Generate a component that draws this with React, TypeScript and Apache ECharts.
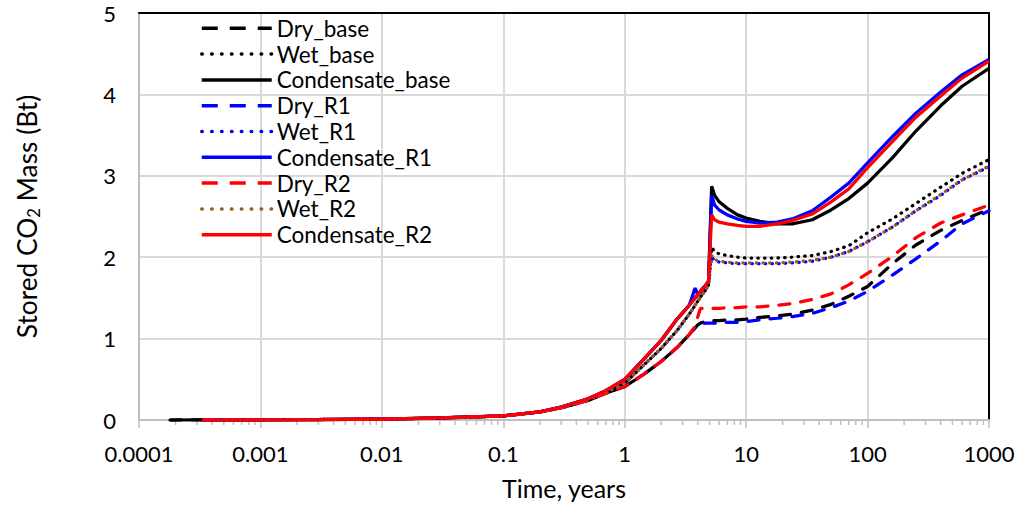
import React, { useEffect, useRef } from 'react';
import * as echarts from 'echarts';

// Time, years
const times = [
  0.00018, 0.00034, 0.0006, 0.001, 0.003, 0.01, 0.03, 0.1, 0.2, 0.3, 0.5, 0.7,
  1, 1.4, 2, 2.7, 3.4, 3.8, 4.0, 4.2, 4.6, 4.9,
  5.2, 5.5, 6, 7, 8.5, 10, 13, 18, 24, 35, 50, 70, 100, 160, 250, 400, 600, 1000,
];

// Stored CO2 mass (Bt)
const dryBase = [
  0, 0.001, 0.002, 0.003, 0.006, 0.012, 0.024, 0.05, 0.1, 0.15, 0.24, 0.33,
  0.41, 0.55, 0.72, 0.89, 1.05, 1.13, 1.17, 1.19, 1.21, 1.22,
  1.22, 1.22, 1.22, 1.23, 1.23, 1.24, 1.26, 1.28, 1.3, 1.35, 1.42, 1.52, 1.64, 1.92, 2.15, 2.33, 2.45, 2.59,
];
const wetBase = [
  null, 0.001, 0.002, 0.003, 0.006, 0.012, 0.024, 0.05, 0.1, 0.15, 0.25, 0.34,
  0.45, 0.66, 0.88, 1.1, 1.3, 1.41, 1.46, 1.51, 1.59, 1.66,
  2.12, 2.07, 2.04, 2.02, 2.0, 1.99, 1.99, 1.99, 2.0, 2.02, 2.07, 2.14, 2.3, 2.47, 2.66, 2.86, 3.03, 3.2,
];
const condBase = [
  0, 0.001, 0.002, 0.003, 0.006, 0.012, 0.025, 0.05, 0.1, 0.16, 0.26, 0.36,
  0.5, 0.73, 0.98, 1.24, 1.41, 1.5, 1.54, 1.58, 1.65, 1.7,
  2.87, 2.76, 2.68, 2.6, 2.52, 2.48, 2.44, 2.41, 2.41, 2.46, 2.58, 2.72, 2.91, 3.22, 3.55, 3.86, 4.1, 4.32,
];
const dryR1 = [
  null, 0.001, 0.002, 0.003, 0.006, 0.012, 0.024, 0.05, 0.1, 0.15, 0.24, 0.33,
  0.41, 0.55, 0.72, 0.89, 1.05, 1.13, 1.16, 1.18, 1.19, 1.19,
  1.19, 1.19, 1.19, 1.2, 1.2, 1.21, 1.23, 1.25, 1.27, 1.31, 1.38, 1.46, 1.58, 1.78, 1.98, 2.2, 2.41, 2.57,
];
const wetR1 = [
  null, null, 0.002, 0.003, 0.006, 0.012, 0.024, 0.05, 0.1, 0.15, 0.25, 0.34,
  0.45, 0.66, 0.88, 1.1, 1.3, 1.41, 1.46, 1.51, 1.59, 1.66,
  2.0, 1.96, 1.94, 1.93, 1.92, 1.92, 1.92, 1.92, 1.93, 1.95, 2.0, 2.07, 2.19, 2.37, 2.57, 2.76, 2.95, 3.11,
];
const condR1 = [
  null, 0.001, 0.002, 0.003, 0.006, 0.012, 0.025, 0.05, 0.1, 0.16, 0.26, 0.36,
  0.5, 0.73, 0.98, 1.24, 1.41, 1.62, 1.54, 1.58, 1.65, 1.7,
  2.76, 2.64, 2.58, 2.52, 2.47, 2.44, 2.42, 2.43, 2.47, 2.57, 2.74, 2.91, 3.16, 3.48, 3.77, 4.03, 4.24, 4.43,
];
const dryR2 = [
  null, 0.001, 0.002, 0.003, 0.006, 0.012, 0.024, 0.05, 0.1, 0.15, 0.24, 0.33,
  0.41, 0.55, 0.72, 0.89, 1.05, 1.15, 1.27, 1.37, 1.37, 1.37,
  1.37, 1.37, 1.37, 1.38, 1.38, 1.39, 1.39, 1.41, 1.43, 1.48, 1.55, 1.66, 1.8, 2.01, 2.24, 2.42, 2.52, 2.64,
];
const wetR2 = [
  null, null, 0.002, 0.003, 0.006, 0.012, 0.024, 0.05, 0.1, 0.15, 0.25, 0.34,
  0.45, 0.66, 0.88, 1.1, 1.3, 1.41, 1.46, 1.51, 1.59, 1.66,
  2.02, 1.97, 1.95, 1.94, 1.93, 1.93, 1.93, 1.93, 1.94, 1.96, 2.0, 2.07, 2.19, 2.37, 2.57, 2.77, 2.95, 3.12,
];
const condR2 = [
  null, 0.001, 0.002, 0.003, 0.006, 0.012, 0.025, 0.05, 0.1, 0.16, 0.26, 0.36,
  0.5, 0.73, 0.98, 1.24, 1.41, 1.5, 1.54, 1.58, 1.65, 1.7,
  2.52, 2.46, 2.43, 2.41, 2.39, 2.38, 2.38, 2.41, 2.45, 2.53, 2.68, 2.84, 3.1, 3.42, 3.72, 3.98, 4.2, 4.41,
];

const seriesNames = [
  'Dry_base', 'Wet_base', 'Condensate_base',
  'Dry_R1', 'Wet_R1', 'Condensate_R1',
  'Dry_R2', 'Wet_R2', 'Condensate_R2',
];
const seriesValues = [dryBase, wetBase, condBase, dryR1, wetR1, condR1, dryR2, wetR2, condR2];
const seriesColors = ['#000000', '#000000', '#000000', '#0000ff', '#0000ff', '#0000ff', '#ff0000', '#9c5a1e', '#ff0000'];
const seriesKinds = ['dash', 'dot', 'solid', 'dash', 'dot', 'solid', 'dash', 'dot', 'solid'];

const xMin = 0.0001;
const xMax = 1000;
const yMin = 0;
const yMax = 5;

const FONT = 'Lato, "Open Sans", sans-serif';

export default function App() {
  const ref = useRef<HTMLDivElement>(null);
  useEffect(() => {
    const chart = echarts.init(ref.current as HTMLDivElement, null, { renderer: 'svg' });

    // minor log ticks (2..9 within each decade)
    const minorTicks: number[][] = [];
    for (let d = xMin; d < xMax * 0.99; d *= 10) {
      for (let k = 2; k <= 9; k++) minorTicks.push([d * k, 0]);
    }

    const lineSeries = seriesNames.map((name, i) => {
      const kind = seriesKinds[i];
      return {
        name,
        type: 'line',
        data: times
          .map((t, j) => [t, seriesValues[i][j]])
          .filter((p) => p[1] !== null),
        symbol: 'none',
        showSymbol: false,
        smooth: false,
        xAxisIndex: 0,
        yAxisIndex: 0,
        lineStyle: {
          color: seriesColors[i],
          width: 3.25,
          type: kind === 'dash' ? [11, 11] : kind === 'dot' ? [0.5, 6.2] : 'solid',
          cap: kind === 'solid' ? 'butt' : 'round',
        },
        itemStyle: { color: seriesColors[i] },
        emphasis: { disabled: true },
        z: 3,
      };
    });

    const legendData = seriesNames.map((name, i) => {
      const kind = seriesKinds[i];
      return {
        name,
        lineStyle: {
          color: seriesColors[i],
          width: 3.5,
          type: kind === 'dash' ? [16, 12] : kind === 'dot' ? [0.5, 9.4] : 'solid',
          cap: kind === 'dot' ? 'round' : 'butt',
        },
      };
    });

    chart.setOption({
      animation: false,
      backgroundColor: '#ffffff',
      textStyle: { fontFamily: FONT },
      grid: { left: 139, right: 46, top: 13, bottom: 88, containLabel: false },
      legend: {
        data: legendData,
        orient: 'vertical',
        left: 200,
        top: 16.8,
        padding: 0,
        itemWidth: 70,
        itemHeight: 20,
        itemGap: 2.8,
        itemStyle: { color: 'rgba(0,0,0,0)', borderColor: 'rgba(0,0,0,0)', borderWidth: 0 },
        lineStyle: { width: 3.5 },
        textStyle: { fontFamily: FONT, fontSize: 22.5, color: '#000', lineHeight: 20 },
        selectedMode: false,
      },
      xAxis: [
        {
          type: 'log',
          logBase: 10,
          min: xMin,
          max: xMax,
          name: 'Time, years',
          nameLocation: 'middle',
          nameGap: 55,
          nameTextStyle: { fontFamily: FONT, fontSize: 25, color: '#000' },
          axisLine: { show: true, onZero: false, lineStyle: { color: '#bfbfbf', width: 2 } },
          axisTick: { show: true, inside: false, length: 8, lineStyle: { color: '#bfbfbf', width: 1.5 } },
          minorTick: { show: false },
          axisLabel: {
            fontFamily: FONT,
            fontSize: 22,
            color: '#000',
            margin: 22,
            formatter: (v: number) => String(v),
          },
          splitLine: { show: true, lineStyle: { color: '#d9d9d9', width: 2 } },
        },
        {
          type: 'log',
          logBase: 10,
          min: xMin,
          max: xMax,
          position: 'top',
          axisLine: { show: true, onZero: false, lineStyle: { color: '#000', width: 2 } },
          axisTick: { show: false },
          axisLabel: { show: false },
          splitLine: { show: false },
        },
      ],
      yAxis: [
        {
          type: 'value',
          min: yMin,
          max: yMax,
          interval: 1,
          name: 'Stored CO{sub|2} Mass (Bt)',
          nameLocation: 'middle',
          nameGap: 97,
          nameTextStyle: {
            fontFamily: FONT,
            fontSize: 26.3,
            color: '#000',
            lineHeight: 30,
            rich: {
              sub: { fontFamily: FONT, fontSize: 16.5, color: '#000', verticalAlign: 'bottom', lineHeight: 30 },
            },
          },
          axisLine: { show: true, lineStyle: { color: '#bfbfbf', width: 2 } },
          axisTick: { show: false },
          axisLabel: { fontFamily: FONT, fontSize: 22, color: '#000', margin: 23 },
          splitLine: { show: true, lineStyle: { color: '#d9d9d9', width: 2 } },
        },
        {
          type: 'value',
          min: yMin,
          max: yMax,
          interval: 1,
          position: 'right',
          axisLine: { show: true, lineStyle: { color: '#000', width: 2 } },
          axisTick: { show: false },
          axisLabel: { show: false },
          splitLine: { show: false },
        },
      ],
      series: [
        {
          name: 'minorTicks',
          type: 'custom',
          xAxisIndex: 0,
          yAxisIndex: 0,
          silent: true,
          clip: false,
          z: 1,
          data: minorTicks,
          renderItem: (params: any, api: any) => {
            const p = api.coord([api.value(0), api.value(1)]);
            return {
              type: 'line',
              shape: { x1: p[0], y1: p[1], x2: p[0], y2: p[1] + 5 },
              style: { stroke: '#bfbfbf', lineWidth: 1.5 },
            };
          },
        },
        ...lineSeries,
      ],
    });
    return () => chart.dispose();
  }, []);
  return (
    <div
      ref={ref}
      style={{ position: 'absolute', left: 0, top: 0, width: 1035, height: 508, background: '#fff' }}
    />
  );
}
